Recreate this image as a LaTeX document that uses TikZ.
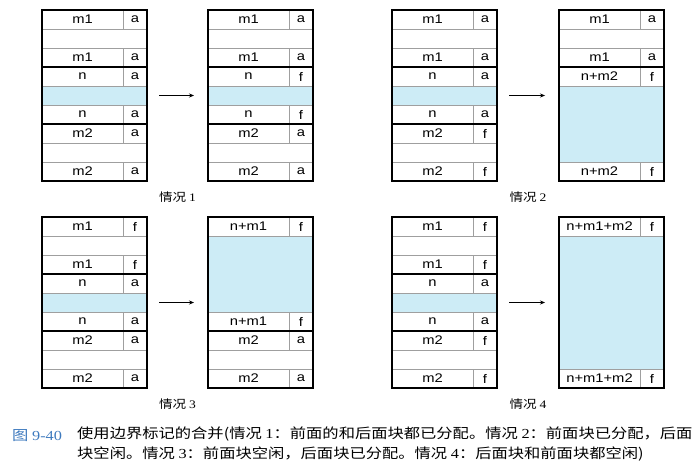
\documentclass[tikz,border=0pt]{standalone}
\usepackage{fontspec}
\setmainfont{Liberation Serif}[FakeStretch=1.18]
\newfontfamily\cjk{Noto Sans CJK SC}[FakeStretch=1.18]
\newfontfamily\boxfont{Liberation Sans}[FakeStretch=1.18]
\usepackage{tikz}
\usetikzlibrary{arrows.meta,positioning,calc}

\definecolor{payblue}{RGB}{205,236,246}
\definecolor{capblue}{RGB}{62,122,190}

% digits of the captions are set in the serif font
\newcommand{\rdig}[1]{{\rmfamily #1}}

% one heap block: header, body, footer
% #1 name, #2 x, #3 y (top), #4 size label, #5 tag, #6 body rows, #7 body style
\newcommand{\hblk}[7]{%
  \node[lab] (#1-hl) at (#2,#3) {#4};
  \node[tagc, right=0pt of #1-hl] (#1-ht) {#5};
  \node[#7, minimum height=#6*19pt, below=0pt of #1-hl.south west, anchor=north west] (#1-b) {};
  \node[lab, below=0pt of #1-b.south west, anchor=north west] (#1-fl) {#4};
  \node[tagc, right=0pt of #1-fl] (#1-ft) {#5};
  \draw[blkline] (#1-hl.north west) rectangle (#1-ft.south east);
}

\begin{document}
\begin{tikzpicture}[
  x=1pt, y=1pt,
  lab/.style={draw=gray!75, line width=0.5pt, minimum width=81pt, minimum height=19pt, inner sep=0pt, outer sep=0pt, anchor=north west, font=\boxfont\fontsize{12.5}{14}\selectfont},
  tagc/.style={lab, minimum width=24pt},
  gap/.style={lab, minimum width=105pt},
  pay/.style={gap, fill=payblue},
  blkline/.style={line width=1.1pt},
  arr/.style={-{Stealth[length=5pt,width=4pt]}, line width=0.6pt},
  caselbl/.style={font=\cjk\fontsize{11.5}{13}\selectfont},
]
\useasboundingbox (0,0) rectangle (695,-471);

% case 1
\hblk{L1m}{42}{-10}{m1}{a}{1}{gap}
\hblk{L1n}{42}{-67}{n}{a}{1}{pay}
\hblk{L1o}{42}{-124}{m2}{a}{1}{gap}
\hblk{R1m}{208}{-10}{m1}{a}{1}{gap}
\hblk{R1n}{208}{-67}{n}{f}{1}{pay}
\hblk{R1o}{208}{-124}{m2}{a}{1}{gap}
\draw[arr] ([xshift=12pt]L1n-b.east) -- ([xshift=-14pt]L1n-b.east -| R1m-hl.west);
\node[caselbl] (c1) at ([yshift=-16.5pt]$(L1o-fl.south west)!0.5!(R1o-ft.south east)$) {情况 \rdig{1}};

% case 2
\hblk{L2m}{392}{-10}{m1}{a}{1}{gap}
\hblk{L2n}{392}{-67}{n}{a}{1}{pay}
\hblk{L2o}{392}{-124}{m2}{f}{1}{gap}
\hblk{R2m}{559}{-10}{m1}{a}{1}{gap}
\hblk{R2n}{559}{-67}{n+m2}{f}{4}{pay}
\draw[arr] ([xshift=12pt]L2n-b.east) -- ([xshift=-14pt]L2n-b.east -| R2m-hl.west);
\node[caselbl] (c2) at ([yshift=-16.5pt]$(L2o-fl.south west)!0.5!(R2n-ft.south east)$) {情况 \rdig{2}};

% case 3
\hblk{L3m}{42}{-217}{m1}{f}{1}{gap}
\hblk{L3n}{42}{-274}{n}{a}{1}{pay}
\hblk{L3o}{42}{-331}{m2}{a}{1}{gap}
\hblk{R3n}{208}{-217}{n+m1}{f}{4}{pay}
\hblk{R3o}{208}{-331}{m2}{a}{1}{gap}
\draw[arr] ([xshift=12pt]L3n-b.east) -- ([xshift=-14pt]L3n-b.east -| R3n-hl.west);
\node[caselbl] (c3) at ([yshift=-16.5pt]$(L3o-fl.south west)!0.5!(R3o-ft.south east)$) {情况 \rdig{3}};

% case 4
\hblk{L4m}{392}{-217}{m1}{f}{1}{gap}
\hblk{L4n}{392}{-274}{n}{a}{1}{pay}
\hblk{L4o}{392}{-331}{m2}{f}{1}{gap}
\hblk{R4n}{559}{-217}{n+m1+m2}{f}{7}{pay}
\draw[arr] ([xshift=12pt]L4n-b.east) -- ([xshift=-14pt]L4n-b.east -| R4n-hl.west);
\node[caselbl] (c4) at ([yshift=-16.5pt]$(L4o-fl.south west)!0.5!(R4n-ft.south east)$) {情况 \rdig{4}};

% caption
\node[anchor=west, inner sep=0pt, text=capblue, font=\cjk\fontsize{13.8}{20}\selectfont] (fig) at (12,-436) {图 \rdig{9-40}};
\node[anchor=north west, inner sep=0pt, align=left, font=\cjk\fontsize{13.8}{20}\selectfont] (cap) at (77,-427)
  {使用边界标记的合并(情况 \rdig{1}：前面的和后面块都已分配。情况 \rdig{2}：前面块已分配，后面\\
   块空闲。情况 \rdig{3}：前面块空闲，后面块已分配。情况 \rdig{4}：后面块和前面块都空闲)};
\end{tikzpicture}
\end{document}
